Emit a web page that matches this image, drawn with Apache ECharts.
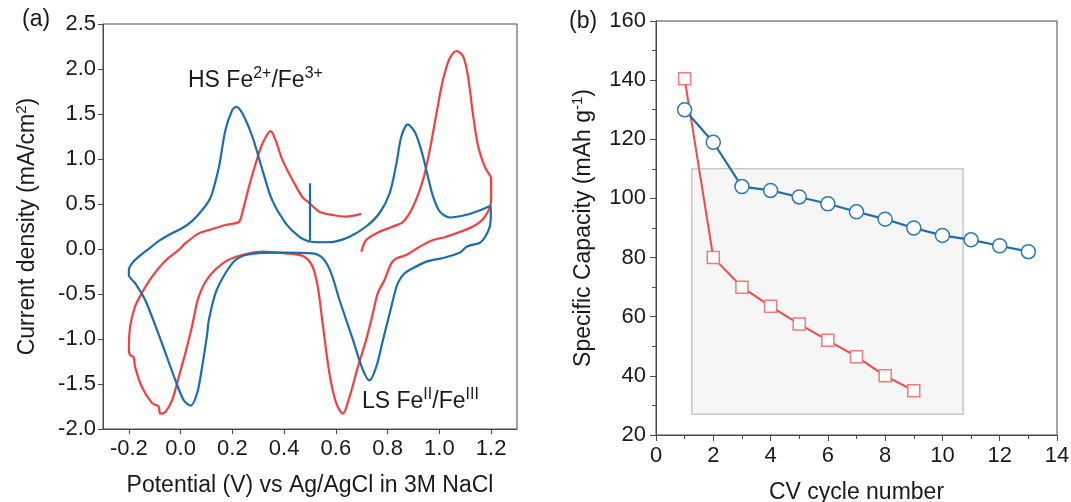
<!DOCTYPE html>
<html>
<head>
<meta charset="utf-8">
<script src="https://cdn.jsdelivr.net/npm/echarts@6/dist/echarts.min.js"></script>
<style>
html,body{margin:0;padding:0;background:#fff;}
#c{width:1071px;height:502px;}
</style>
</head>
<body>
<div id="c"></div>
<script>
// ---------- Panel (a): cyclic voltammograms [potential V, current mA/cm2] ----------
var cvBlue = [
  [0.500,0.73],[0.500,0.08],[0.55,0.075],[0.60,0.085],[0.653,0.137],[0.717,0.25],[0.769,0.40],
  [0.808,0.62],[0.834,0.95],[0.853,1.25],[0.878,1.385],[0.905,1.30],[0.93,1.10],[0.956,0.80],
  [0.976,0.58],[1.002,0.415],[1.04,0.35],[1.105,0.38],[1.157,0.43],[1.198,0.48],[1.199,0.40],
  [1.195,0.25],[1.176,0.13],[1.157,0.07],[1.105,0.026],[1.08,-0.04],[1.014,-0.10],[0.95,-0.14],
  [0.885,-0.233],[0.866,-0.27],[0.846,-0.344],[0.834,-0.42],[0.808,-0.715],[0.782,-1.01],
  [0.756,-1.31],[0.730,-1.46],[0.704,-1.34],[0.666,-1.01],[0.614,-0.567],[0.582,-0.27],
  [0.55,-0.104],[0.51,-0.048],[0.40,-0.04],[0.30,-0.045],[0.251,-0.067],[0.212,-0.122],
  [0.173,-0.27],[0.135,-0.49],[0.109,-0.79],[0.102,-0.956],[0.083,-1.31],[0.064,-1.60],
  [0.038,-1.74],[0.012,-1.68],[-0.02,-1.46],[-0.072,-1.05],[-0.137,-0.567],[-0.176,-0.38],
  [-0.2,-0.29],[-0.2,-0.23],[-0.188,-0.16],[-0.162,-0.085],[-0.111,0.03],[-0.084,0.09],
  [-0.046,0.156],[0.005,0.23],[0.044,0.31],[0.083,0.43],[0.11,0.54],[0.122,0.62],[0.148,0.91],
  [0.173,1.32],[0.199,1.54],[0.215,1.58],[0.238,1.51],[0.277,1.25],[0.316,0.88],[0.354,0.54],
  [0.406,0.285],[0.458,0.137],[0.497,0.08]
];
var cvRed = [
  [0.698,-0.03],[0.717,0.10],[0.756,0.174],[0.82,0.25],[0.859,0.30],[0.898,0.47],[0.937,0.77],
  [0.963,1.10],[0.989,1.51],[1.014,1.88],[1.04,2.12],[1.066,2.20],[1.092,2.14],[1.111,1.91],
  [1.131,1.47],[1.15,1.14],[1.176,0.91],[1.195,0.82],[1.2,0.79],[1.2,0.54],[1.176,0.36],
  [1.13,0.25],[1.027,0.137],[0.976,0.10],[0.924,0.026],[0.872,-0.067],[0.834,-0.104],
  [0.814,-0.16],[0.788,-0.344],[0.762,-0.49],[0.743,-0.715],[0.717,-1.01],[0.685,-1.31],
  [0.653,-1.64],[0.627,-1.83],[0.601,-1.71],[0.575,-1.38],[0.549,-0.83],[0.53,-0.42],
  [0.51,-0.197],[0.478,-0.085],[0.406,-0.048],[0.316,-0.03],[0.238,-0.067],[0.173,-0.14],
  [0.109,-0.31],[0.07,-0.53],[0.044,-0.86],[0.018,-1.16],[-0.007,-1.42],[-0.033,-1.68],
  [-0.059,-1.81],[-0.079,-1.83],[-0.085,-1.75],[-0.111,-1.71],[-0.15,-1.53],[-0.176,-1.31],
  [-0.182,-1.20],[-0.195,-1.18],[-0.2,-1.12],[-0.195,-0.86],[-0.176,-0.64],[-0.15,-0.49],
  [-0.111,-0.31],[-0.059,-0.13],[-0.007,-0.01],[0.018,0.063],[0.07,0.174],[0.109,0.21],
  [0.173,0.267],[0.225,0.30],[0.238,0.40],[0.264,0.69],[0.29,0.95],[0.316,1.17],[0.348,1.31],
  [0.367,1.21],[0.393,0.99],[0.432,0.77],[0.47,0.58],[0.498,0.51],[0.536,0.415],[0.588,0.378],
  [0.64,0.36],[0.698,0.39]
];
var cvTicksX = [-0.2,0,0.2,0.4,0.6,0.8,1.0,1.2];

// ---------- Panel (b): capacity vs cycle ----------
var cyclesBlue = [1,2,3,4,5,6,7,8,9,10,11,12,13];
var capBlue    = [130,119,104,102.7,100.5,98.2,95.5,93,90,87.5,86,84,82];
var cyclesRed  = [1,2,3,4,5,6,7,8,9];
var capRed     = [140.5,80,70,63.5,57.5,52,46.5,40,35];
var boxX = [1.25,10.72];
var boxY = [27,110];

var FONT = '"Liberation Sans", Arial, sans-serif';
var TXT = '#1a1a1a';
var AX = '#4a4a4a';
var BLUE = '#1b6db2';
var RED = '#f23f3f';

function zip(a,b){return a.map(function(v,i){return [v,b[i]];});}

var supStyle = {fontSize:15, fontFamily:FONT, color:TXT, padding:[0,0,12,0]};

var chart = echarts.init(document.getElementById('c'), null, {renderer:'canvas'});
chart.setOption({
  animation:false,
  backgroundColor:'#fff',
  textStyle:{fontFamily:FONT},
  grid:[
    {left:103, top:24, width:414, height:405, show:true, borderColor:AX, borderWidth:1,
     backgroundColor:'transparent', containLabel:false, outerBoundsMode:'none'},
    {left:656, top:21, width:401, height:414, show:true, borderColor:AX, borderWidth:1,
     backgroundColor:'transparent', containLabel:false, outerBoundsMode:'none'}
  ],
  xAxis:[
    {type:'value', gridIndex:0, min:-0.3, max:1.3,
     name:'Potential (V) vs Ag/AgCl in 3M NaCl', nameLocation:'middle', nameGap:45,
     nameTextStyle:{fontSize:23, color:TXT, fontFamily:FONT},
     axisLine:{onZero:false, lineStyle:{color:AX, width:1}},
     axisTick:{show:true, length:5, lineStyle:{color:AX}, customValues:cvTicksX},
     axisLabel:{fontSize:22, color:TXT, margin:9, customValues:cvTicksX,
       formatter:function(v){return v.toFixed(1);}},
     splitLine:{show:false}},
    {type:'value', gridIndex:1, min:0, max:14, interval:2,
     name:'CV cycle number', nameLocation:'middle', nameGap:46,
     nameTextStyle:{fontSize:23, color:TXT, fontFamily:FONT},
     axisLine:{onZero:false, lineStyle:{color:AX, width:1}},
     axisTick:{show:true, length:6, lineStyle:{color:AX}},
     minorTick:{show:true, splitNumber:2, length:4, lineStyle:{color:AX}},
     axisLabel:{fontSize:22, color:TXT, margin:10},
     splitLine:{show:false}}
  ],
  yAxis:[
    {type:'value', gridIndex:0, min:-2, max:2.5, interval:0.5,
     name:'Current density (mA/cm{sup|2})', nameLocation:'middle', nameGap:62, nameRotate:90,
     nameTextStyle:{fontSize:23, color:TXT, fontFamily:FONT, rich:{sup:supStyle}},
     axisLine:{onZero:false, lineStyle:{color:AX, width:1}},
     axisTick:{show:true, length:5, lineStyle:{color:AX}},
     axisLabel:{fontSize:22, color:TXT, margin:7, formatter:function(v){return v.toFixed(1);}},
     splitLine:{show:false}},
    {type:'value', gridIndex:1, min:20, max:160, interval:20,
     name:'Specific Capacity (mAh g{sup|-1})', nameLocation:'middle', nameGap:59, nameRotate:90,
     nameTextStyle:{fontSize:23, color:TXT, fontFamily:FONT, rich:{sup:supStyle}},
     axisLine:{onZero:false, lineStyle:{color:AX, width:1}},
     axisTick:{show:true, length:6, lineStyle:{color:AX}},
     minorTick:{show:true, splitNumber:2, length:4, lineStyle:{color:AX}},
     axisLabel:{fontSize:22, color:TXT, margin:10},
     splitLine:{show:false}}
  ],
  series:[
    {type:'line', xAxisIndex:0, yAxisIndex:0, data:cvBlue, showSymbol:false, smooth:0.3,
     lineStyle:{color:BLUE, width:2.2}, z:3},
    {type:'line', xAxisIndex:0, yAxisIndex:0, data:cvRed, showSymbol:false, smooth:0.3,
     lineStyle:{color:RED, width:2.2}, z:2},
    {type:'line', xAxisIndex:1, yAxisIndex:1, data:zip(cyclesRed,capRed),
     symbol:'rect', symbolSize:12, showAllSymbol:true,
     lineStyle:{color:'#f04a4a', width:2},
     itemStyle:{color:'#fff', borderColor:'#f07b7b', borderWidth:1.5}, z:3,
     markArea:{silent:true, itemStyle:{color:'rgba(228,228,228,0.35)', borderColor:'#c8c8c8', borderWidth:1.5},
       data:[[{coord:[boxX[0],boxY[1]]},{coord:[boxX[1],boxY[0]]}]]}},
    {type:'line', xAxisIndex:1, yAxisIndex:1, data:zip(cyclesBlue,capBlue),
     symbol:'circle', symbolSize:14, showAllSymbol:true,
     lineStyle:{color:BLUE, width:2.2},
     itemStyle:{color:'#fff', borderColor:'#2b78bd', borderWidth:1.5}, z:4}
  ],
  graphic:[
    {type:'text', left:22, top:8, style:{text:'(a)', fontSize:23, fill:TXT, fontFamily:FONT}},
    {type:'text', left:569, top:10, style:{text:'(b)', fontSize:23, fill:TXT, fontFamily:FONT}},
    {type:'text', left:188, top:66, style:{text:'HS Fe{sup|2+}/Fe{sup|3+}', fontSize:23, fill:TXT, fontFamily:FONT,
      rich:{sup:{fontSize:16, fill:TXT, fontFamily:FONT, padding:[0,0,14,0]}}}},
    {type:'text', left:362, top:387, style:{text:'LS Fe{sup|II}/Fe{sup|III}', fontSize:23, fill:TXT, fontFamily:FONT,
      rich:{sup:{fontSize:16, fill:TXT, fontFamily:FONT, padding:[0,0,14,0]}}}}
  ]
});
</script>
</body>
</html>
